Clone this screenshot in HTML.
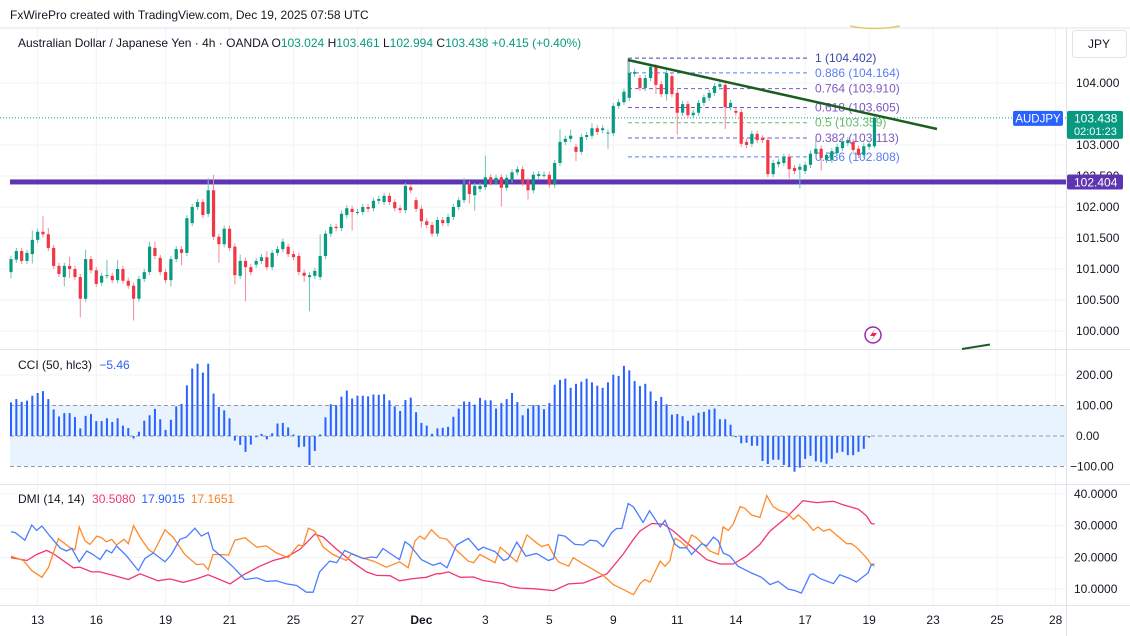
<!DOCTYPE html>
<html><head><meta charset="utf-8"><style>
html,body{margin:0;padding:0;background:#fff;}
svg{display:block;font-family:"Liberation Sans",sans-serif;}
</style></head><body>
<svg id="chart" width="1130" height="636" viewBox="0 0 1130 636" xmlns="http://www.w3.org/2000/svg">
<rect x="0" y="0" width="1130" height="636" fill="#ffffff"/>
<text x="10" y="19" font-size="12" fill="#131722">FxWirePro created with TradingView.com, Dec 19, 2025 07:58 UTC</text>
<g id="grid"></g>
<g id="panes">
<line x1="0" y1="28" x2="1130" y2="28" stroke="#e0e3eb"/>
<line x1="0" y1="349.5" x2="1130" y2="349.5" stroke="#e0e3eb"/>
<line x1="0" y1="484.5" x2="1130" y2="484.5" stroke="#e0e3eb"/>
<line x1="0" y1="605.5" x2="1130" y2="605.5" stroke="#e0e3eb"/>
<line x1="1066.5" y1="28" x2="1066.5" y2="636" stroke="#e0e3eb"/>
</g>
<rect x="10" y="405" width="1056" height="61" fill="#e8f3fe"/>
<g id="main"></g>
<g id="cci"></g>
<g id="dmi"></g>
<g id="axes"></g>
<text x="18" y="47" font-size="12" fill="#131722">Australian Dollar / Japanese Yen · 4h · OANDA <tspan>O</tspan><tspan fill="#089981">103.024</tspan> <tspan>H</tspan><tspan fill="#089981">103.461</tspan> <tspan>L</tspan><tspan fill="#089981">102.994</tspan> <tspan>C</tspan><tspan fill="#089981">103.438 +0.415 (+0.40%)</tspan></text>
<g><rect x="1072.5" y="30.5" width="54" height="27" rx="3" fill="#fff" stroke="#e0e3eb"/><text x="1099" y="48" font-size="12" text-anchor="middle" fill="#131722">JPY</text></g>
<text x="18" y="369" font-size="12" fill="#131722">CCI (50, hlc3) <tspan fill="#2962ff" dx="4">−5.46</tspan></text>
<text x="18" y="503" font-size="12" fill="#131722">DMI (14, 14) <tspan fill="#f23670" dx="4">30.5080</tspan><tspan fill="#2962ff" dx="6">17.9015</tspan><tspan fill="#ff7f1e" dx="6">17.1651</tspan></text>
<g><circle cx="873" cy="335" r="8" fill="#fff" stroke="#9c27b0" stroke-width="1.5"/><path d="M875 329 L870 336 L874 336 L871 341 L877 333 L873 333 Z" fill="#e91e63"/></g>
<line x1="962" y1="349" x2="990" y2="344.5" stroke="#1b5e20" stroke-width="2"/>
<path d="M850 26 Q875 31 900 26" fill="none" stroke="#e5c76b" stroke-width="1.5"/>
</svg>
<script>
const opens=[100.95,101.15,101.29,101.13,101.24,101.47,101.60,101.56,101.34,101.05,100.87,101.05,101.00,100.87,100.52,101.16,100.98,100.78,100.89,100.89,100.82,101.00,100.81,100.73,100.52,100.84,100.95,101.34,101.18,100.95,100.82,101.16,101.32,101.26,101.74,102.00,102.08,101.89,102.27,101.52,101.40,101.65,101.36,100.89,101.13,101.03,101.07,101.13,101.19,101.03,101.26,101.32,101.36,101.24,101.21,100.94,100.87,100.89,100.87,101.21,101.57,101.68,101.66,101.87,101.97,101.92,101.92,102.00,101.98,102.10,102.08,102.18,102.08,101.98,101.95,102.32,102.11,101.97,101.77,101.71,101.57,101.79,101.74,101.84,102.00,102.11,102.37,102.19,102.29,102.32,102.48,102.40,102.48,102.31,102.44,102.56,102.61,102.42,102.27,102.50,102.52,102.52,102.36,102.71,103.05,103.10,102.97,102.89,103.13,103.15,103.27,103.24,103.19,103.19,103.63,103.69,103.76,104.15,104.08,103.92,104.08,104.26,103.98,103.82,104.11,103.84,103.52,103.66,103.48,103.52,103.68,103.76,103.84,103.94,103.97,103.61,103.55,103.53,103.05,103.02,103.18,103.11,103.08,102.53,102.69,102.71,102.81,102.63,102.60,102.58,102.68,102.86,102.94,102.76,102.76,102.87,102.95,103.03,103.05,102.94,102.84,102.97,102.98];
const closes=[101.16,101.29,101.13,101.26,101.47,101.60,101.56,101.34,101.05,100.92,101.05,101.00,100.87,100.52,101.16,100.98,100.76,100.89,100.90,100.82,101.00,100.81,100.73,100.52,100.84,100.95,101.36,101.21,100.95,100.82,101.16,101.32,101.26,101.82,102.00,102.08,101.87,102.27,101.52,101.40,101.65,101.34,100.90,101.13,101.03,100.95,101.13,101.19,101.03,101.26,101.32,101.44,101.24,101.19,100.95,100.89,100.90,100.97,101.21,101.57,101.68,101.66,101.89,101.98,101.92,101.92,102.00,101.97,102.10,102.13,102.18,102.08,101.98,101.95,102.34,102.27,101.97,101.77,101.71,101.57,101.79,101.74,101.84,102.00,102.11,102.37,102.21,102.34,102.34,102.48,102.39,102.47,102.31,102.47,102.56,102.61,102.39,102.27,102.52,102.53,102.52,102.36,102.71,103.05,103.10,103.15,102.89,103.13,103.16,103.27,103.21,103.27,103.20,103.63,103.69,103.86,104.16,104.18,103.92,104.08,104.26,103.97,103.82,104.16,103.82,103.52,103.66,103.48,103.52,103.68,103.77,103.84,103.95,103.98,103.61,103.68,103.52,103.02,103.00,103.18,103.08,103.08,102.53,102.71,102.73,102.81,102.61,102.58,102.65,102.68,102.86,102.94,102.79,102.84,102.90,102.97,103.05,103.08,102.92,102.84,102.98,103.02,103.438];
const wickHi=[.05,.05,.05,.05,.15,.05,.25,.1,.05,.05,.05,.15,.05,.05,.15,.05,.05,.05,.25,.05,.15,.05,.05,.05,.05,.05,.08,.1,.05,.05,.05,.05,.05,.05,.05,.05,.05,.2,.25,.05,.05,.05,.05,.1,.05,.05,.05,.05,.1,.05,.05,.05,.05,.05,.05,.05,.05,.05,.35,.05,.05,.05,.05,.05,.05,.05,.05,.05,.05,.05,.05,.05,.05,.05,.05,.05,.05,.05,.05,.05,.05,.05,.05,.05,.05,.1,.05,.05,.05,.35,.05,.05,.05,.05,.05,.05,.05,.05,.05,.05,.05,.05,.05,.2,.05,.1,.05,.05,.05,.08,.05,.05,.05,.05,.05,.05,.2,.05,.05,.05,.05,.05,.05,.05,.05,.05,.05,.05,.05,.05,.05,.05,.05,.05,.05,.05,.05,.05,.05,.05,.05,.05,.05,.05,.05,.05,.05,.05,.05,.05,.05,.15,.05,.05,.05,.05,.05,.05,.05,.05,.05,.05,.03];
const wickLo=[.1,.05,.05,.05,.15,.05,.05,.05,.05,.05,.15,.15,.05,.3,.05,.05,.05,.05,.05,.05,.05,.05,.05,.35,.05,.05,.05,.05,.05,.05,.1,.05,.2,.05,.05,.05,.05,.05,.05,.3,.05,.05,.15,.05,.55,.05,.05,.05,.05,.05,.05,.05,.05,.05,.05,.1,.55,.05,.05,.05,.05,.05,.05,.05,.3,.05,.05,.05,.05,.05,.05,.05,.05,.05,.05,.05,.05,.1,.05,.05,.05,.05,.05,.05,.05,.05,.15,.25,.05,.05,.05,.05,.3,.05,.05,.05,.05,.15,.05,.05,.05,.05,.05,.05,.05,.05,.15,.05,.05,.05,.05,.05,.25,.05,.05,.05,.05,.05,.05,.05,.05,.15,.05,.1,.05,.35,.05,.05,.05,.05,.05,.05,.05,.05,.35,.05,.05,.05,.05,.05,.05,.05,.05,.05,.05,.05,.15,.05,.3,.05,.05,.05,.2,.05,.05,.05,.05,.05,.05,.05,.05,.05,.03];
const cciValues=[110,121,112,116,132,141,147,121,87,64,75,75,62,25,66,72,49,49,58,46,58,34,26,-8,14,50,68,89,55,20,53,97,105,166,221,237,208,237,139,95,84,58,-15,-29,-52,-28,-4,7,-11,9,41,43,28,5,-37,-35,-95,-49,5,61,104,101,129,149,123,132,132,130,136,135,137,117,97,82,118,126,78,43,34,7,25,27,30,63,90,113,112,103,125,117,117,90,108,121,141,111,68,90,101,101,88,108,168,184,188,158,171,178,188,176,165,158,176,201,197,230,215,180,164,171,146,115,128,104,70,72,65,50,67,76,79,87,90,55,55,37,-4,-24,-22,-32,-32,-82,-92,-78,-78,-95,-102,-117,-104,-75,-65,-83,-86,-91,-75,-55,-52,-63,-63,-52,-42,-5];
const blueT=[0,0.8,2.6,3.9,4.8,5.8,7.3,9.2,10.4,11.4,12.8,14.2,15.4,16.7,17.9,18.9,19.8,21.7,23.9,25.1,26.7,28.9,30.1,31.7,32.9,34.5,35.7,37,37.9,39.8,41.7,43.9,46.1,47.9,49.8,51.7,53.6,55.4,56.7,57.9,59.8,61.1,62.6,64.2,66.1,67.6,68.6,69.8,71.4,72.9,73.9,74.8,77,79.2,80.5,81.8,83.6,85.8,87.7,88.6,90.8,92.4,93.3,94.9,96.6,98.6,100.8,101.8,102.7,103.9,105.8,107.4,108.6,109.9,111.1,112.7,113.6,114.6,115.8,116.8,118.6,119.8,121.8,122.7,124.6,125.5,126.8,127.7,129.6,130.5,131.8,132.7,133.6,134.9,136.4,138.9,140.8,142.4,143.9,145.8,147.1,148.3,149.9,150.5,151.8,154.3,155.5,157.4,158.6,160.2,160.8,161.4,162];
const blueV=[28.1,27.8,25.4,30.2,28.5,29.9,26.7,23,22,22.8,18.6,22,20.9,19.3,22.3,21.4,23.6,20.4,15.8,19.6,21.4,18.6,20.9,25.7,26.4,29.2,26.7,27.8,22.5,19.9,16.9,13,13.5,12.4,12.6,11.6,11.1,9,9,15.4,18.8,18.3,22.2,20.9,19.6,20.1,19.9,22.8,20.9,19.3,24.9,23.9,19.3,17.5,18.2,16.7,23.9,26,22.3,23.2,21.8,19,19.6,24.8,20.4,21.2,19,19.6,27.1,26.7,24.1,23.9,25.4,25.2,23.4,27.8,29.1,29.1,37,35.9,31,34.7,29.6,31.7,24.1,23,23,20.9,24.3,23.6,26.4,25.2,21.4,20.4,17.2,15.1,13.7,11.4,12.4,10,9.5,8.7,14.5,14.8,13.3,11.7,14.5,13.3,12.2,14.3,15.1,17.7,17.9];
const orangeT=[0,2.3,3.9,5.8,7,8.9,11.1,12,12.8,13.9,14.8,16.1,17,17.9,18.9,19.8,21.2,22,23,24.2,25.8,26.7,28.9,30.4,32.6,34.8,36.1,37,37.9,39.2,40.8,42,43.9,46.1,47.9,49.8,52,53.9,54.8,55.8,57,58.6,60.4,62.9,63.9,65.8,68,70.4,72.9,74.5,75.8,76.7,77.6,78.9,80.4,81.8,83.6,85.8,86.8,88,90.8,91.8,94.9,96.8,98.6,99.6,100.8,101.8,102.7,104.6,105.5,107.4,109.3,111.1,113,114.9,116.8,118,118.9,119.9,121.8,122.7,123.6,124.6,125.5,126.8,127.7,128.6,129.9,131.1,132.7,133.6,134.6,135.5,136.8,137.7,138.9,140.5,141.8,143,144.3,145.5,146.8,147.7,149.3,150.5,151.4,152.4,153.6,155.5,156.8,157.7,158.6,160.5,161.4,162];
const orangeV=[20.4,19,15.8,13.7,16.7,25.9,23,22.4,29.6,25.2,24.1,26.7,26.2,24.9,25.7,23.9,25.7,24.3,30,26.4,22.5,21.4,28.7,26.4,20.9,17.7,17.9,16.1,20.9,20.9,20.7,25.4,26.2,23.2,23.6,21.4,19.9,23.9,23.6,29.2,28.3,23.2,20.9,19,21.2,19.9,18.8,16.9,18.6,16.7,25.2,26.7,25.7,28.7,26.2,25.7,22.2,18.8,18.3,20.9,18.3,23.2,18.6,27.1,24.6,23.4,24.1,20.9,18.6,17.2,19.9,17.9,16.1,14.3,11.4,9.8,8.2,11.6,13,12.2,18.8,17.2,18.8,26,25.2,23.2,27.1,26.2,24.1,22,20.9,29.6,28.5,30.5,36,35.5,33.4,32.6,39.5,36,34.7,34.2,32,33.4,31,28.5,29.6,28.3,28.9,26.2,24.3,24.3,23.2,19.9,17.7,17.2];
const pinkT=[0,3,4.8,6.7,8,11.7,12.9,15.1,16.7,19.2,22,24.2,27.6,29.8,32.3,34.8,37,41.1,43.6,46.7,49.2,51.7,54.2,57,58.6,61.1,64.2,66.7,68.6,71.1,72.9,75.4,77.9,79.8,80.5,82.1,84.3,86.8,88.6,92.4,93.6,95.5,98,101.8,104.6,107.4,109.9,111.8,113,114.9,116.8,118,120.2,122.4,124.3,126.8,130.5,133,135.5,138,140.5,142.4,145.5,148.6,151.1,154.3,156.1,159,160.5,161.4,162];
const pinkV=[19.9,19,20.9,22.2,21.1,16.7,16.9,15.4,15.4,14.3,13,14.8,12.6,13.2,12.1,13.2,14.5,11.6,14.5,17.2,19,20.1,22.5,27.3,26.4,22.5,18.3,15.4,14.3,14.2,12.6,13.3,13.7,14.8,14.8,15.4,13.7,13.8,12.7,11.7,10.8,10.3,10.1,9.5,11.6,11.9,13.5,14.8,17.2,21.1,25.7,28.3,30.7,30.5,28.3,24.6,19.3,17.9,17.9,20.4,24.1,28.3,32.6,37.9,37.3,37.7,36.6,35.2,33.1,30.7,30.5];
const priceTicks=["104.000","103.000","102.500","102.000","101.500","101.000","100.500","100.000"];
const cciTicks=["200.00","100.00","0.00","−100.00"];
const dmiTicks=["40.0000","30.0000","20.0000","10.0000"];
const dateLabels=["13","16","19","21","25","27","Dec","3","5","9","11","14","17","19","23","25","28"];
const dateBars=[5,16,29,41,53,65,77,89,101,113,125,136,149,161,173,185,196];
const fibRatios=["1","0.886","0.764","0.618","0.5","0.382","0.236"];
const fibPrices=[104.402,104.164,103.910,103.605,103.359,103.113,102.808];
const supportPrice=102.404;
const lastPrice=103.438;

const NS="http://www.w3.org/2000/svg";
const xOf=i=>11+i*5.33;
const yP=p=>83+(104-p)*62;
const yC=v=>436-v*0.305;
const yD=v=>494+(40-v)*3.167;
function mk(tag,attrs,parent,txt){const e=document.createElementNS(NS,tag);for(const k in attrs)e.setAttribute(k,attrs[k]);if(txt!==undefined)e.textContent=txt;parent.appendChild(e);return e;}
const grid=document.getElementById('grid'),main=document.getElementById('main'),cci=document.getElementById('cci'),dmi=document.getElementById('dmi'),axes=document.getElementById('axes');

// vertical grid + date labels
dateLabels.forEach((d,k)=>{const x=xOf(dateBars[k]);
 const l=mk('line',{x1:x,y1:28,x2:x,y2:605,stroke:'#f2f3f6'},grid);
 
 
 const t=mk('text',{x:x,y:624,'font-size':12,'text-anchor':'middle',fill:'#131722','font-weight':d==='Dec'?'bold':'normal'},axes,d);
 
 
});
// price grid & ticks
priceTicks.forEach(s=>{const y=yP(parseFloat(s));
 const l=mk('line',{x1:0,y1:y,x2:1066,y2:y,stroke:'#f2f3f6'},grid);
 
 
 const t=mk('text',{x:1076,y:y+4,'font-size':12,fill:'#131722'},axes,s);
 
 
});
cciTicks.forEach(s=>{const v=parseFloat(s.replace('−','-'));const y=yC(v);
 if(v!==200){const l=mk('line',{x1:10,y1:y,x2:1066,y2:y,stroke:'#9598a1','stroke-dasharray':'4 3'},cci);
 
 }
 else{const l=mk('line',{x1:0,y1:y,x2:1066,y2:y,stroke:'#f2f3f6'},grid);
 
 }
 const t=mk('text',{x:s.startsWith('−')?1070:1076,y:y+4,'font-size':12,fill:'#131722'},axes,s);
 
 
});
dmiTicks.forEach(s=>{const y=yD(parseFloat(s));
 const l=mk('line',{x1:0,y1:y,x2:1066,y2:y,stroke:'#f2f3f6'},grid);
 
 
 const t=mk('text',{x:1074,y:y+4,'font-size':12,fill:'#131722'},axes,s);
 
 
});

// support line
const sy=yP(supportPrice);
const sl=mk('rect',{x:10,y:sy-2.5,width:1056,height:5,fill:'#5e35b1'},main);


// last price dotted line
const ly=yP(lastPrice);
const lp=mk('line',{x1:0,y1:ly,x2:1066,y2:ly,stroke:'#089981','stroke-dasharray':'1 2'},main);



// fib
const fibColors=['#3949ab','#5b7cf5','#7e57c2','#7e57c2','#66bb6a','#7e57c2','#5b7cf5'];
fibRatios.forEach((r,k)=>{const y=yP(fibPrices[k]);
 const l=mk('line',{x1:628,y1:y,x2:808,y2:y,stroke:fibColors[k],'stroke-dasharray':'4 3'},main);
 
 
 const t=mk('text',{x:815,y:y+4,'font-size':12,fill:fibColors[k]},main,r+' ('+fibPrices[k].toFixed(3)+')');
 
 
});
const fv=mk('line',{x1:628,y1:yP(fibPrices[0]),x2:628,y2:yP(fibPrices[0])+16,stroke:'#9598a1'},main);



// candles
for(let i=0;i<closes.length;i++){const o=opens[i],c=closes[i];const up=c>=o;const x=xOf(i);
 const col=up?'#089981':'#f23645';const wc=up?'#6cc5b4':'#f58a94';
 const hi=Math.max(o,c)+wickHi[i],lo=Math.min(o,c)-wickLo[i];
 const w=mk('line',{x1:x,y1:yP(hi),x2:x,y2:yP(lo),stroke:wc,'stroke-width':1},main);
 
 
 const top=yP(Math.max(o,c)),bot=yP(Math.min(o,c));
 const b=mk('rect',{x:x-1.6,y:top,width:3.2,height:Math.max(1,bot-top),fill:col},main);
 
 
}
// trendline
const tl=mk('line',{x1:628,y1:60,x2:937,y2:129,stroke:'#1b5e20','stroke-width':2.5},main);



// price labels on axis
const sb=mk('rect',{x:1067,y:sy-7.5,width:56,height:15,fill:'#5e35b1',rx:2},axes);


const st=mk('text',{x:1074,y:sy+4.5,'font-size':12,fill:'#fff'},axes,supportPrice.toFixed(3));


const nb=mk('rect',{x:1013,y:ly-7,width:50,height:15,fill:'#2962ff',rx:2},axes);


const nt=mk('text',{x:1038,y:ly+4.5,'font-size':11.5,fill:'#fff','text-anchor':'middle'},axes,'AUDJPY');


const pb=mk('rect',{x:1067,y:ly-7,width:56,height:28,fill:'#089981',rx:2},axes);


const pt=mk('text',{x:1074,y:ly+4.5,'font-size':12,fill:'#fff'},axes,lastPrice.toFixed(3));


const ct=mk('text',{x:1074,y:ly+17,'font-size':11,fill:'#fff'},axes,'02:01:23');



// CCI bars
for(let i=0;i<cciValues.length;i++){const x=xOf(i);const y0=yC(0),y1=yC(cciValues[i]);
 const r=mk('rect',{x:x-1,y:Math.min(y0,y1),width:2,height:Math.max(0.8,Math.abs(y1-y0)),fill:'#2962ff'},cci);
 
 
}
// DMI lines
function line(ts,vs,color,name){const d=ts.map((t,k)=>(k?'L':'M')+xOf(t).toFixed(1)+' '+yD(vs[k]).toFixed(1)).join(' ');
 const p=mk('path',{d:d,fill:'none',stroke:color,'stroke-width':1.3},dmi);
 
 }
line(pinkT,pinkV,'#f23670','adx-line');
line(orangeT,orangeV,'#ff8a2a','minus-di-line');
line(blueT,blueV,'#4a7dff','plus-di-line');
</script>
</body></html>
